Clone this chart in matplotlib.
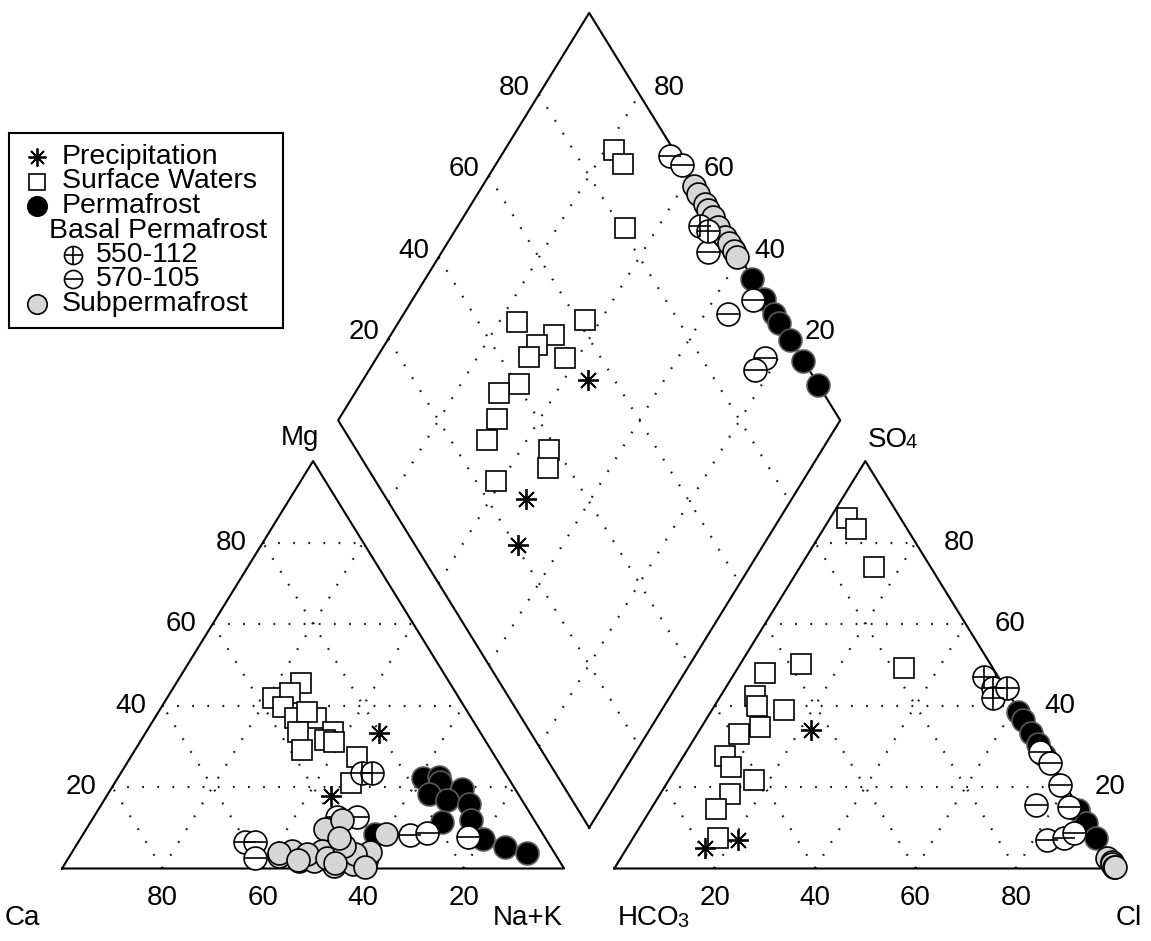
import numpy as np
import matplotlib.pyplot as plt
from matplotlib.patches import Rectangle
from matplotlib.lines import Line2D

plt.rcParams['font.family'] = ['Liberation Sans', 'DejaVu Sans']

# ---- data (percent of meq) ----
# cation triangle: (Mg, Na+K)
prec_cat_mg = [33.2, 17.8]
prec_cat_nak = [46.6, 44.6]
surf_cat_mg = [45.6, 41.8, 43.0, 39.7, 36.9, 36.9, 38.5, 33.6, 33.6, 31.5, 31.1, 29.1, 27.4, 20.9]
surf_cat_nak = [24.8, 21.2, 23.9, 24.2, 28.0, 32.1, 29.5, 30.3, 37.2, 36.6, 38.7, 33.2, 45.1, 47.1]
perm_cat_mg = [22.1, 22.5, 21.2, 18.4, 19.6, 16.7, 15.9, 11.8, 11.4, 8.5, 7.2, 5.2, 3.8]
perm_cat_nak = [60.9, 63.9, 64.7, 63.9, 69.9, 68.4, 73.2, 75.6, 69.9, 58.1, 80.2, 85.6, 90.7]
b550_cat_mg = [23.4, 23.4]
b550_cat_nak = [48.0, 50.0]
b570_cat_mg = [12.7, 12.7, 6.6, 6.6, 2.5, 8.2, 8.6, 7.8]
b570_cat_nak = [48.4, 52.4, 33.2, 35.1, 37.2, 65.2, 68.3, 77.0]
sub_cat_mg = [3.1, 1.9, 1.9, 0.7, 1.1, 1.9, 4.0, 8.5, 9.7, 11.8, 4.4, 4.4, 3.5, 3.5,
              0.3, 8.5, 2.5, 5.5, 7.5, 3.7, 2.1, 1.3]
sub_cat_nak = [41.6, 46.3, 49.2, 53.9, 57.4, 59.6, 59.3, 50.0, 47.6, 49.8, 49.5, 43.6, 47.0, 56.6,
               60.1, 60.3, 51.5, 53.5, 51.5, 41.4, 46.0, 53.7]

# anion triangle: (SO4, Cl)
prec_an_so4 = [34.0, 5.0, 7.0]
prec_an_cl = [22.1, 15.6, 21.1]
surf_an_so4 = [86.0, 83.3, 74.1, 49.1, 50.3, 47.9, 42.3, 40.0, 38.9, 34.7, 33.0, 27.6, 24.8, 21.6,
               18.3, 14.6, 7.4]
surf_an_cl = [3.4, 6.4, 14.6, 33.2, 12.1, 6.0, 6.8, 8.5, 14.3, 11.7, 8.3, 8.2, 10.9, 17.1,
              13.8, 13.0, 16.9]
perm_an_so4 = [38.5, 36.4, 33.2, 30.5, 27.9, 14.4, 11.1, 7.4]
perm_an_cl = [61.1, 63.2, 66.4, 69.1, 71.7, 85.2, 88.5, 92.2]
b550_an_so4 = [47.1, 44.2, 41.8, 44.2]
b550_an_cl = [50.0, 53.4, 54.6, 56.1]
b570_an_so4 = [28.7, 25.8, 20.5, 15.6, 15.2, 7.0, 7.4, 8.6]
b570_an_cl = [70.5, 73.9, 78.5, 76.2, 82.9, 82.7, 85.8, 87.2]
sub_an_so4 = [2.5, 1.7, 1.2, 0.4, 0.3]
sub_an_cl = [96.9, 98.2, 98.6, 99.4, 99.6]

# diamond: (Na+K, SO4+Cl)
prec_dia_nak = [44.9, 47.1, 51.2]
prec_dia_s = [54.7, 27.7, 20.6]
surf_dia_nak = [21.8, 25.3, 33.6, 23.5, 36.9, 32.5, 30.4, 30.2, 37.5, 31.6, 28.8, 31.5, 32.1,
                45.6, 47.6, 38.9]
surf_dia_s = [88.2, 88.3, 80.8, 47.7, 61.5, 53.5, 48.8, 45.8, 52.7, 40.6, 35.4, 31.7, 27.3,
              38.2, 35.8, 24.1]
perm_dia_nak = [57.6, 65.0, 70.0, 73.8, 76.0, 80.1, 85.3, 91.2]
perm_dia_s = [99.6, 99.8, 99.8, 99.8, 99.8, 99.8, 99.8, 99.8]
b550_dia_nak = [48.3, 50.5]
b550_dia_s = [95.9, 97.0]
b570_dia_nak = [33.7, 37.1, 53.0, 67.9, 64.6, 77.4, 76.8]
b570_dia_s = [98.5, 99.7, 94.4, 97.5, 90.8, 92.6, 89.2]
sub_dia_nak = [42.1, 44.0, 46.5, 48.0, 49.7, 52.0, 54.5, 56.0, 58.0, 59.5]
sub_dia_s = [99.5, 99.5, 99.5, 99.5, 99.5, 99.5, 99.5, 99.5, 99.5, 99.5]

ticks = [20, 40, 60, 80]

H = np.sqrt(3) / 2
GAP = 10


def cat_xy(mg, nak):
    mg = np.asarray(mg, float)
    nak = np.asarray(nak, float)
    return nak + mg / 2, mg * H


def an_xy(so4, cl):
    so4 = np.asarray(so4, float)
    cl = np.asarray(cl, float)
    return 100 + GAP + cl + so4 / 2, so4 * H


def dia_xy(nak, s):
    nak = np.asarray(nak, float)
    s = np.asarray(s, float)
    return (nak + 100 + GAP + s) / 2, H * (100 + GAP + s - nak)


fig = plt.figure(figsize=(11.51, 9.41), dpi=100)
ax = fig.add_axes([0, 0, 1, 1])
ax.set_xlim(-12.35, 216.9)
ax.set_ylim(-15.41, 184.6)
ax.axis('off')

grid_kw = dict(color='0.1', lw=1.6, linestyle=(0, (0.8, 6)), zorder=1)
frame_kw = dict(color='k', lw=1.5, zorder=2)

# frames
ax.plot(*cat_xy([0, 0, 100, 0], [0, 100, 0, 0]), **frame_kw)
ax.plot(*an_xy([0, 0, 100, 0], [0, 100, 0, 0]), **frame_kw)
ax.plot(*dia_xy([100, 0, 0, 100, 100], [0, 0, 100, 100, 0]), **frame_kw)

# grids
for k in ticks:
    ax.plot(*cat_xy([k, k], [0, 100 - k]), **grid_kw)
    ax.plot(*cat_xy([0, 100 - k], [k, k]), **grid_kw)
    ax.plot(*cat_xy([0, 100 - k], [100 - k, 0]), **grid_kw)
    ax.plot(*an_xy([k, k], [0, 100 - k]), **grid_kw)
    ax.plot(*an_xy([0, 100 - k], [k, k]), **grid_kw)
    ax.plot(*an_xy([0, 100 - k], [100 - k, 0]), **grid_kw)
    ax.plot(*dia_xy([k, k], [0, 100]), **grid_kw)
    ax.plot(*dia_xy([0, 100], [k, k]), **grid_kw)

fs = 20
# tick labels
for k in ticks:
    x, y = cat_xy(k, 0)
    ax.text(x - 6.2, y, str(k), fontsize=fs, ha='center', va='center')
    x, y = cat_xy(0, 100 - k)
    ax.text(x, -6.3, str(k), fontsize=fs, ha='center', va='center')
    x, y = an_xy(k, 100 - k)
    ax.text(x + 8.8, y, str(k), fontsize=fs, ha='center', va='center')
    x, y = an_xy(0, k)
    ax.text(x, -6.3, str(k), fontsize=fs, ha='center', va='center')
    x, y = dia_xy(0, k)
    ax.text(x - 4.9, y + 1.4, str(k), fontsize=fs, ha='center', va='center')
    x, y = dia_xy(100 - k, 100)
    ax.text(x + 5.9, y + 1.4, str(k), fontsize=fs, ha='center', va='center')

# apex labels
ax.text(-8.0, -10.6, 'Ca', fontsize=fs, ha='center', va='center')
ax.text(92.8, -10.6, 'Na+K', fontsize=fs, ha='center', va='center')
ax.text(47.4, 91.5, 'Mg', fontsize=fs, ha='center', va='center')
ax.text(209.8, -10.6, 'Cl', fontsize=fs, ha='left', va='center')
t1 = ax.text(110.6, -10.6, 'HCO', fontsize=fs, ha='left', va='center')
t2 = ax.text(160.5, 91.1, 'SO', fontsize=fs, ha='left', va='center')
fig.canvas.draw()
r = fig.canvas.get_renderer()
for t, sub in [(t1, '3'), (t2, '4')]:
    bb = t.get_window_extent(r)
    xd, yd = ax.transData.inverted().transform((bb.x1, bb.y0))
    ax.text(xd - 0.4, yd + 1.0, sub, fontsize=fs * 0.72, ha='left', va='baseline')

# ---- markers ----
ms_c = 16.5
ms_s = 14.5
ms_a = 15
mew = 1.2
GRAY = '#d6d6d6'
ast = (8, 2, 0)


def draw_set(xy_list):
    x, y = xy_list['surf']
    ax.plot(x, y, 's', ms=ms_s, mfc='white', mec='k', mew=mew, ls='none', zorder=3)
    x, y = xy_list['prec']
    ax.plot(x, y, marker=ast, ms=ms_a, mec='k', mew=1.3, ls='none', zorder=3)
    x, y = xy_list['perm']
    ax.plot(x, y, 'o', ms=ms_c, mfc='k', mec='0.35', mew=mew, ls='none', zorder=4)
    x, y = xy_list['b570']
    ax.plot(x, y, 'o', ms=ms_c, mfc='white', mec='k', mew=mew, ls='none', zorder=4)
    ax.plot(x, y, '_', ms=ms_c, mec='k', mew=mew, ls='none', zorder=4)
    x, y = xy_list['sub']
    ax.plot(x, y, 'o', ms=ms_c, mfc=GRAY, mec='k', mew=mew, ls='none', zorder=4)
    x, y = xy_list['b550']
    ax.plot(x, y, 'o', ms=ms_c, mfc='white', mec='k', mew=mew, ls='none', zorder=5)
    ax.plot(x, y, '+', ms=ms_c, mec='k', mew=mew, ls='none', zorder=5)


draw_set({'surf': cat_xy(surf_cat_mg, surf_cat_nak),
          'prec': cat_xy(prec_cat_mg, prec_cat_nak),
          'perm': cat_xy(perm_cat_mg, perm_cat_nak),
          'b570': cat_xy(b570_cat_mg, b570_cat_nak),
          'sub': cat_xy(sub_cat_mg, sub_cat_nak),
          'b550': cat_xy(b550_cat_mg, b550_cat_nak)})
draw_set({'surf': an_xy(surf_an_so4, surf_an_cl),
          'prec': an_xy(prec_an_so4, prec_an_cl),
          'perm': an_xy(perm_an_so4, perm_an_cl),
          'b570': an_xy(b570_an_so4, b570_an_cl),
          'sub': an_xy(sub_an_so4, sub_an_cl),
          'b550': an_xy(b550_an_so4, b550_an_cl)})
draw_set({'surf': dia_xy(surf_dia_nak, surf_dia_s),
          'prec': dia_xy(prec_dia_nak, prec_dia_s),
          'perm': dia_xy(perm_dia_nak, perm_dia_s),
          'b570': dia_xy(b570_dia_nak, b570_dia_s),
          'sub': dia_xy(sub_dia_nak, sub_dia_s),
          'b550': dia_xy(b550_dia_nak, b550_dia_s)})

# ---- legend (figure pixel layout) ----
W, Hh = 1151, 941


def fx(px):
    return px / W


def fy(py):
    return 1 - py / Hh


fig.patches.append(Rectangle((fx(9), fy(328)), fx(283) - fx(9), fy(133) - fy(328),
                             transform=fig.transFigure, fill=False, ec='k', lw=1.5))
rows = [157, 181.5, 206, 230.5, 255, 279.5, 304]
lfs = 20.5


def leg_marker(px, py, **kw):
    fig.add_artist(Line2D([fx(px)], [fy(py)], transform=fig.transFigure, ls='none', **kw))


leg_marker(37, rows[0], marker=ast, ms=13, mec='k', mew=1.3)
fig.text(fx(62), fy(rows[0]), 'Precipitation', fontsize=lfs, va='center')
leg_marker(37, rows[1], marker='s', ms=12, mfc='white', mec='k', mew=mew)
fig.text(fx(62), fy(rows[1]), 'Surface Waters', fontsize=lfs, va='center')
leg_marker(37, rows[2], marker='o', ms=14, mfc='k', mec='k', mew=mew)
fig.text(fx(62), fy(rows[2]), 'Permafrost', fontsize=lfs, va='center')
fig.text(fx(49), fy(rows[3]), 'Basal Permafrost', fontsize=lfs, va='center')
leg_marker(73, rows[4], marker='o', ms=13, mfc='white', mec='k', mew=mew)
leg_marker(73, rows[4], marker='+', ms=13, mec='k', mew=mew)
fig.text(fx(96), fy(rows[4]), '550-112', fontsize=lfs, va='center')
leg_marker(73, rows[5], marker='o', ms=13, mfc='white', mec='k', mew=mew)
leg_marker(73, rows[5], marker='_', ms=13, mec='k', mew=mew)
fig.text(fx(96), fy(rows[5]), '570-105', fontsize=lfs, va='center')
leg_marker(37, rows[6], marker='o', ms=14, mfc=GRAY, mec='k', mew=mew)
fig.text(fx(62), fy(rows[6]), 'Subpermafrost', fontsize=lfs, va='center')

fig.savefig('out.png', dpi=100)
